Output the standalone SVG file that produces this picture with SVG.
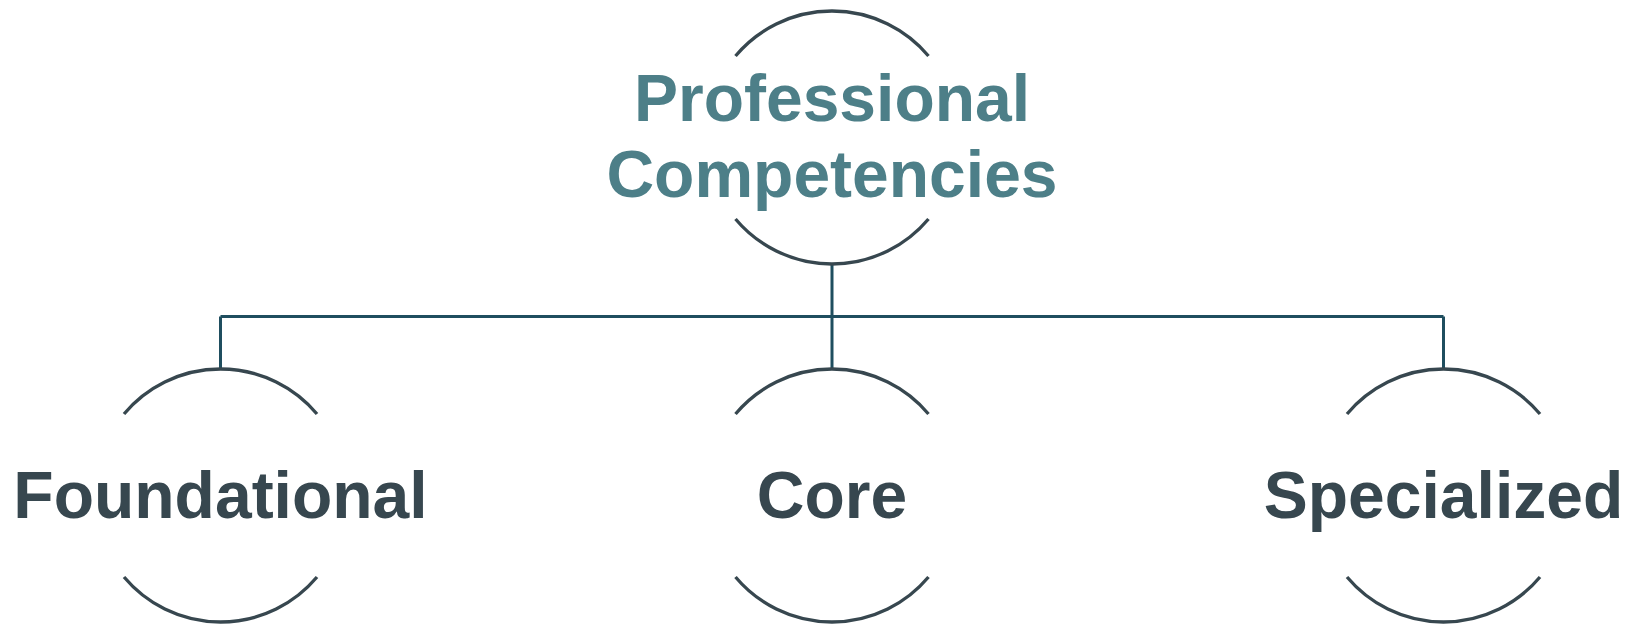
<svg xmlns="http://www.w3.org/2000/svg" width="1638" height="626" viewBox="0 0 1638 626">
  <style>
    .arc { fill: none; stroke: #37474F; stroke-width: 3.3; }
    .link { fill: none; stroke: #1F4E5F; stroke-width: 3; }
    .label { font-family: "Liberation Sans", Arial, sans-serif; font-weight: bold; font-size: 66px; text-anchor: middle; }
    .root-label { fill: #4D7F88; }
    .leaf-label { fill: #37474F; }
  </style>
  <defs>
    <!-- a pair of arcs, top and bottom, of a circle of r=126 centred on the origin -->
    <g id="bracket">
      <path class="arc" d="M -96.5 -81.5 A 126 126 0 0 1 96.5 -81.5"/>
      <path class="arc" d="M -96.5 81.5 A 126 126 0 0 0 96.5 81.5"/>
    </g>
  </defs>
  <rect width="1638" height="626" fill="#FFFFFF"/>

  <g id="connectors">
    <path class="link" d="M 832 263.5 V 316.5"/>
    <path class="link" d="M 220.5 316.5 H 1443.5"/>
    <path class="link" d="M 220.5 316.5 V 369.5"/>
    <path class="link" d="M 832 316.5 V 369.5"/>
    <path class="link" d="M 1443.5 316.5 V 369.5"/>
  </g>

  <g id="node-professional-competencies">
    <use href="#bracket" x="832" y="137.5"/>
    <text class="label root-label" x="832" y="120.5">Professional</text>
    <text class="label root-label" x="832" y="197">Competencies</text>
  </g>

  <g id="node-foundational">
    <use href="#bracket" x="220.5" y="495.5"/>
    <text class="label leaf-label" x="220.5" y="518">Foundational</text>
  </g>

  <g id="node-core">
    <use href="#bracket" x="832" y="495.5"/>
    <text class="label leaf-label" x="832" y="518">Core</text>
  </g>

  <g id="node-specialized">
    <use href="#bracket" x="1443.5" y="495.5"/>
    <text class="label leaf-label" x="1443.5" y="518">Specialized</text>
  </g>
</svg>
